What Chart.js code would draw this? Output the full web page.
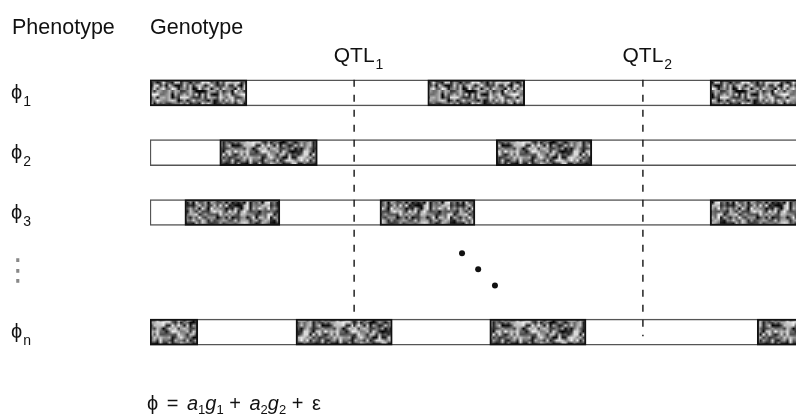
<!DOCTYPE html>
<html><head><meta charset="utf-8">
<script src="https://cdn.jsdelivr.net/npm/chart.js@4.4.1/dist/chart.umd.min.js"></script>
<style>html,body{margin:0;padding:0;background:#fff}#wrap{width:796px;height:414px;position:relative}</style>
</head><body><div id="wrap"><canvas id="c" width="796" height="414"></canvas></div>
<script>
// ---- data ----
const phenotypeLabels = ['ϕ1', 'ϕ2', 'ϕ3', '⋮', 'ϕn'];
const chromosomeLength = 101;          // chromosome continues past the visible edge (axis shows 0-100)
const phi1Segments = [[0, 15.0], [43.0, 58.0], [86.7, 101]];
const phi2Segments = [[10.8, 25.9], [53.6, 68.4]];
const phi3Segments = [[5.4, 20.1], [35.6, 50.3], [86.7, 101]];
const ellipsisRowSegments = [];
const phiNSegments = [[0, 7.4], [22.6, 37.5], [52.6, 67.5], [94.0, 101]];
const qtlNames = ['QTL', 'QTL'];
const qtlSubscripts = ['1', '2'];
const qtlPositions = [31.6, 76.3];
const qtlSpan = [-0.22, 4.07];
const ellipsisX = [48.3, 50.8, 53.4];
const ellipsisY = [2.68, 2.95, 3.22];
const headerLabels = ['Phenotype', 'Genotype'];
const formulaParts = [['ϕ', 'n'], [' = ', 'n'], ['a', 'i'], ['1', 's'], ['g', 'i'], ['1', 's'], [' + ', 'n'],
                      ['a', 'i'], ['2', 's'], ['g', 'i'], ['2', 's'], [' + ', 'n'], ['ε', 'n']];

const rowSegments = [phi1Segments, phi2Segments, phi3Segments, ellipsisRowSegments, phiNSegments];

// ---- styling helpers ----
function makeTexture() {
  const n = 30;
  const s = document.createElement('canvas'); s.width = n; s.height = n;
  const sg = s.getContext('2d'); const img = sg.createImageData(n, n);
  for (let i = 0; i < n * n; i++) {
    let h = Math.imul(i + 17, 2654435761) >>> 0; h ^= h >>> 13; h = Math.imul(h, 0x5bd1e995) >>> 0; h ^= h >>> 15;
    const v = 120 + (h % 125);
    img.data[i * 4] = v; img.data[i * 4 + 1] = v; img.data[i * 4 + 2] = v; img.data[i * 4 + 3] = 255;
  }
  sg.putImageData(img, 0, 0);
  const c = document.createElement('canvas'); c.width = n * 3; c.height = n * 3;
  const g = c.getContext('2d'); g.imageSmoothingEnabled = true;
  g.drawImage(s, 0, 0, n * 3, n * 3);
  return c;
}
const ctxMain = document.getElementById('c').getContext('2d');
const texture = ctxMain.createPattern(makeTexture(), 'repeat');

const FONT = '"Liberation Sans", Arial, sans-serif';
const maxSeg = Math.max(...rowSegments.map(r => r.length));
const datasets = [];
// QTL dashed lines (on top)
qtlPositions.forEach((p, i) => {
  datasets.push({
    type: 'line', label: qtlNames[i] + qtlSubscripts[i], yAxisID: 'yl', xAxisID: 'x',
    data: qtlSpan.map(y => ({ x: p, y })),
    borderColor: '#222', borderWidth: 1.5, borderDash: [7, 8], pointRadius: 0, fill: false, order: 0
  });
});
datasets.push({
  type: 'line', label: 'more', yAxisID: 'yl', xAxisID: 'x',
  data: ellipsisX.map((x, i) => ({ x, y: ellipsisY[i] })),
  showLine: false, pointRadius: 3, pointBackgroundColor: '#111', pointBorderWidth: 0, order: 0
});
for (let k = 0; k < maxSeg; k++) {
  datasets.push({
    label: 'segment ' + (k + 1),
    data: rowSegments.map(r => r[k] ? r[k] : null),
    backgroundColor: texture, borderColor: '#111', borderWidth: 2, borderSkipped: false,
    grouped: false, barThickness: 26, order: 1
  });
}
datasets.push({
  label: 'chromosome',
  data: rowSegments.map(r => r.length ? [0, chromosomeLength] : null),
  backgroundColor: '#fff', borderColor: '#555', borderWidth: 1.5, borderSkipped: false,
  grouped: false, barThickness: 26, order: 2
});

const textPlugin = {
  id: 'texts',
  afterDraw(chart) {
    const ctx = chart.ctx; const ys = chart.scales.y; const xs = chart.scales.x;
    ctx.save();
    ctx.fillStyle = '#111';
    ctx.textBaseline = 'alphabetic';
    ctx.font = '21.5px ' + FONT;
    ctx.textAlign = 'left';
    ctx.fillText(headerLabels[0], 12, 34);
    ctx.fillText(headerLabels[1], chart.chartArea.left, 34);
    // QTL labels
    qtlPositions.forEach((p, i) => {
      const px = xs.getPixelForValue(p);
      ctx.font = '21px ' + FONT; ctx.textAlign = 'center';
      ctx.fillText(qtlNames[i], px, 62);
      const w = ctx.measureText(qtlNames[i]).width;
      ctx.font = '14px ' + FONT; ctx.textAlign = 'left';
      ctx.fillText(qtlSubscripts[i], px + w / 2 + 1, 69);
    });
    // row labels
    phenotypeLabels.forEach((lab, i) => {
      const py = ys.getPixelForValue(i);
      ctx.textAlign = 'left';
      if (lab === '⋮') {
        ctx.font = '30px "DejaVu Sans", sans-serif'; ctx.textBaseline = 'middle';
        ctx.fillStyle = '#888';
        ctx.fillText(lab, 3, py);
        ctx.fillStyle = '#111';
        return;
      }
      ctx.textBaseline = 'alphabetic';
      ctx.font = '20px ' + FONT;
      const base = lab[0];
      ctx.fillText(base, 11, py + 6);
      const w = ctx.measureText(base).width;
      ctx.font = '14px ' + FONT;
      ctx.fillText(lab.slice(1), 11 + w + 1, py + 13);
    });
    // formula
    let x = chart.chartArea.left - 3; const by = 410;
    ctx.textBaseline = 'alphabetic'; ctx.textAlign = 'left';
    formulaParts.forEach(([t, s]) => {
      if (s === 's') { ctx.font = '13px ' + FONT; ctx.fillText(t, x, by + 4); }
      else if (s === 'i') { ctx.font = 'italic 20px ' + FONT; ctx.fillText(t, x, by); }
      else { ctx.font = '20px ' + FONT; ctx.fillText(t, x, by); }
      x += ctx.measureText(t).width + (s === 'n' ? 3 : 0);
    });
    ctx.restore();
  }
};

new Chart(ctxMain, {
  type: 'bar',
  data: { labels: phenotypeLabels, datasets },
  options: {
    indexAxis: 'y', responsive: false, animation: false, devicePixelRatio: 1,
    layout: { autoPadding: false, padding: { left: 150, top: 63, bottom: 52, right: 0 } },
    plugins: { legend: { display: false }, tooltip: { enabled: false } },
    scales: {
      x: { type: 'linear', min: 0, max: 100, display: false, offset: false },
      y: { type: 'category', display: false, offset: true },
      yl: { type: 'linear', min: -0.5, max: 4.5, reverse: true, display: false, offset: false }
    }
  },
  plugins: [textPlugin]
});
</script></body></html>
